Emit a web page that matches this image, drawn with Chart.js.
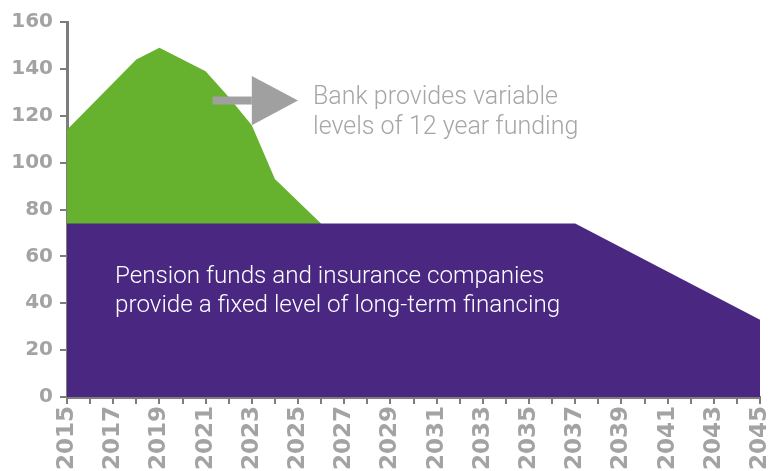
<!DOCTYPE html>
<html>
<head>
<meta charset="utf-8">
<script src="https://cdn.jsdelivr.net/npm/chart.js@4/dist/chart.umd.min.js"></script>
<style>
  html, body { margin: 0; padding: 0; background: #fff; }
  #wrap { width: 775px; height: 471px; position: relative; }
</style>
</head>
<body>
<div id="wrap"><canvas id="chart"></canvas></div>
<script>
// values
const bankYears = [2015, 2018, 2019, 2021, 2022, 2023, 2024, 2026];
const bankTotal = [114, 144, 149, 139, 128, 116, 93, 74];
const pensionYears = [2015, 2037, 2045];
const pensionValues = [74, 74, 33];
const yTicks = [0, 20, 40, 60, 80, 100, 120, 140, 160];

const bankNote = ['Bank provides variable', 'levels of 12 year funding'];
const pensionNote = ['Pension funds and insurance companies', 'provide a fixed level of long-term financing'];

const GREEN = '#66b22f';
const PURPLE = '#4a2882';
const AXIS = '#7d7d7d';
const LABEL = '#a3a3a3';

function pts(xs, ys) {
  return xs.map((x, i) => ({ x: x, y: ys[i] }));
}

// arrow + notes, placed with the chart scales
const notes = {
  id: 'notes',
  afterDatasetsDraw(chart) {
    const { ctx, scales: { x, y } } = chart;
    ctx.save();
    // arrow
    const ay = y.getPixelForValue(126.5);
    ctx.fillStyle = '#a0a0a0';
    ctx.fillRect(x.getPixelForValue(2021.3), ay - 4, x.getPixelForValue(2023) - x.getPixelForValue(2021.3), 8);
    ctx.beginPath();
    ctx.moveTo(x.getPixelForValue(2023), y.getPixelForValue(137));
    ctx.lineTo(x.getPixelForValue(2025), ay);
    ctx.lineTo(x.getPixelForValue(2023), y.getPixelForValue(116));
    ctx.closePath();
    ctx.fill();

    ctx.textBaseline = 'middle';
    ctx.textAlign = 'left';
    ctx.font = '300 25px Roboto';
    ctx.fillStyle = '#a6a6a6';
    bankNote.forEach((t, i) => {
      ctx.fillText(t, x.getPixelForValue(2025.65), y.getPixelForValue(127.5 - i * 12.8));
    });
    ctx.font = '300 24.2px Roboto';
    ctx.fillStyle = '#ffffff';
    pensionNote.forEach((t, i) => {
      ctx.fillText(t, x.getPixelForValue(2017.08), y.getPixelForValue(51.3 - i * 12.4));
    });
    ctx.restore();
  }
};

new Chart(document.getElementById('chart'), {
  type: 'line',
  data: {
    datasets: [
      {
        label: 'Pension funds and insurance companies',
        data: pts(pensionYears, pensionValues),
        backgroundColor: PURPLE,
        borderWidth: 0,
        pointRadius: 0,
        fill: 'origin',
        tension: 0
      },
      {
        label: 'Bank',
        data: pts(bankYears, bankTotal),
        backgroundColor: GREEN,
        borderWidth: 0,
        pointRadius: 0,
        fill: 'origin',
        tension: 0
      }
    ]
  },
  options: {
    responsive: true,
    maintainAspectRatio: false,
    animation: false,
    layout: { padding: { top: 22, right: 15, left: 0, bottom: 0 } },
    plugins: {
      legend: { display: false },
      tooltip: { enabled: false }
    },
    scales: {
      x: {
        type: 'linear',
        min: 2015,
        max: 2045,
        afterFit(scale) {
          scale.height = 74;
          scale.paddingLeft = 0;
          scale.paddingRight = 0;
        },
        ticks: {
          stepSize: 1,
          autoSkip: false,
          maxRotation: 90,
          minRotation: 90,
          padding: 2,
          color: LABEL,
          font: { family: 'DejaVu Sans', weight: 'bold', size: 23 },
          callback: (v) => (v % 2 === 1 ? String(v) : '')
        },
        grid: { drawOnChartArea: false, color: AXIS, tickLength: 7, lineWidth: 2 },
        border: { color: AXIS, width: 3 }
      },
      y: {
        min: 0,
        max: 160,
        afterFit(scale) { scale.width = 67; },
        afterBuildTicks(scale) { scale.ticks = yTicks.map(v => ({ value: v })); },
        ticks: {
          padding: 7,
          color: LABEL,
          font: { family: 'DejaVu Sans', weight: 'bold', size: 20 }
        },
        grid: { drawOnChartArea: false, color: AXIS, tickLength: 7, lineWidth: 2 },
        border: { color: AXIS, width: 3 }
      }
    }
  },
  plugins: [notes]
});
</script>
</body>
</html>
